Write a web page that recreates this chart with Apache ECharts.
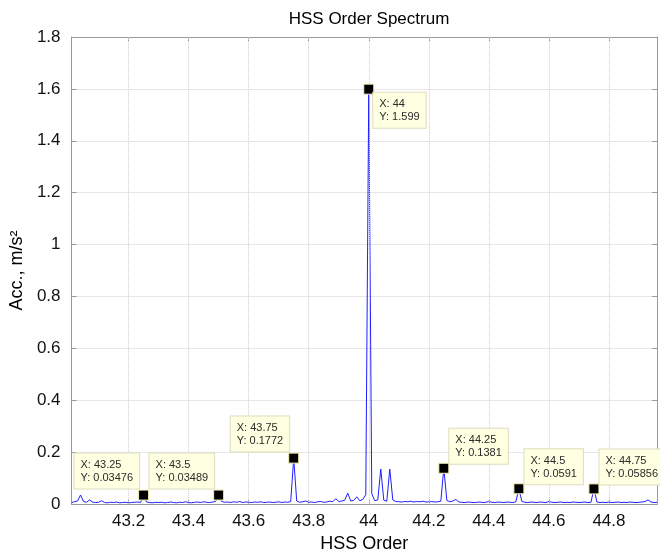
<!DOCTYPE html>
<html>
<head>
<meta charset="utf-8">
<script src="https://cdn.jsdelivr.net/npm/echarts@6/dist/echarts.min.js"></script>
<style>html,body{margin:0;padding:0;background:#fff}#c{width:660px;height:558px}</style>
</head>
<body>
<div id="c"></div>
<script>
// ---- data ----
const titleText = 'HSS Order Spectrum';
const xName = 'HSS Order';
const yName = 'Acc., m/s\u00B2';
const orderStart = 43.01;   // first spectral bin (order)
const orderStep = 0.01;     // bin spacing (order)
const amplitude = [
  0.006, 0.009, 0.012, 0.035, 0.010, 0.007, 0.016, 0.008, 0.006, 0.007,
  0.013, 0.006, 0.005, 0.007, 0.006, 0.008, 0.005, 0.006, 0.007, 0.005,
  0.006, 0.007, 0.008, 0.006, 0.03476, 0.008, 0.006, 0.005, 0.007, 0.006,
  0.007, 0.005, 0.006, 0.008, 0.006, 0.005, 0.007, 0.006, 0.009, 0.006,
  0.005, 0.007, 0.008, 0.006, 0.009, 0.007, 0.006, 0.008, 0.010, 0.03489,
  0.010, 0.007, 0.008, 0.006, 0.009, 0.007, 0.010, 0.006, 0.008, 0.007,
  0.006, 0.008, 0.007, 0.009, 0.006, 0.007, 0.008, 0.006, 0.007, 0.009,
  0.006, 0.008, 0.007, 0.010, 0.1772, 0.012, 0.007, 0.009, 0.012, 0.007,
  0.008, 0.006, 0.009, 0.010, 0.007, 0.008, 0.011, 0.009, 0.021, 0.010,
  0.012, 0.015, 0.042, 0.012, 0.014, 0.028, 0.013, 0.018, 0.036, 1.599,
  0.040, 0.013, 0.016, 0.135, 0.015, 0.011, 0.135, 0.016, 0.010, 0.009,
  0.008, 0.010, 0.009, 0.011, 0.008, 0.010, 0.009, 0.011, 0.008, 0.009,
  0.010, 0.008, 0.009, 0.011, 0.1381, 0.014, 0.009, 0.012, 0.018, 0.008,
  0.007, 0.006, 0.008, 0.007, 0.006, 0.007, 0.008, 0.006, 0.007, 0.010,
  0.007, 0.006, 0.008, 0.007, 0.006, 0.008, 0.007, 0.006, 0.009, 0.0591,
  0.010, 0.007, 0.006, 0.008, 0.007, 0.006, 0.008, 0.007, 0.006, 0.010,
  0.007, 0.006, 0.007, 0.008, 0.006, 0.007, 0.006, 0.008, 0.007, 0.006,
  0.007, 0.008, 0.006, 0.007, 0.05856, 0.008, 0.006, 0.007, 0.006, 0.008,
  0.006, 0.007, 0.008, 0.006, 0.007, 0.006, 0.008, 0.007, 0.006, 0.007,
  0.008, 0.010, 0.016, 0.008, 0.006, 0.007
];
const tipX = [43.25, 43.5, 43.75, 44, 44.25, 44.5, 44.75];
const tipY = [0.03476, 0.03489, 0.1772, 1.599, 0.1381, 0.0591, 0.05856];
const xTicks = [43.2, 43.4, 43.6, 43.8, 44, 44.2, 44.4, 44.6, 44.8];
const xMin = 43.01, xMax = 44.96;
const yMin = 0, yMax = 1.8, yStep = 0.2;

// ---- styling / layout (not data) ----
const tipPlacement = ['ul', 'ul', 'ul', 'lr', 'ur', 'ur', 'ur'];
const placeCfg = {
  ur: {position: [11, 1], align: 'left', verticalAlign: 'bottom'},
  ul: {position: [1, -1], align: 'right', verticalAlign: 'bottom'},
  lr: {position: [10, 9], align: 'left', verticalAlign: 'top'}
};
const FONT = '"Liberation Sans", Arial, Helvetica, sans-serif';
const axisGray = '#9a9a9a';
const gridGray = '#cfcfcf';

const orders = amplitude.map((_, i) => +(orderStart + i * orderStep).toFixed(2));
const lineData = orders.map((o, i) => [o, amplitude[i]]);

const tipData = tipX.map((x, i) => ({
  value: [x, tipY[i]],
  label: Object.assign({}, placeCfg[tipPlacement[i]])
}));

const chart = echarts.init(document.getElementById('c'), null, {renderer: 'canvas'});
chart.setOption({
  animation: false,
  backgroundColor: '#ffffff',
  title: {
    text: titleText, left: 364, top: 6, textAlign: 'center',
    textStyle: {fontFamily: FONT, fontSize: 17, fontWeight: 'normal', color: '#000'}
  },
  grid: {left: 71, right: 3, top: 37, bottom: 50},
  xAxis: [{
    type: 'value', min: xMin, max: xMax, position: 'bottom',
    name: xName, nameLocation: 'middle', nameGap: 30,
    nameTextStyle: {fontFamily: FONT, fontSize: 18, color: '#000'},
    axisLine: {show: true, onZero: false, lineStyle: {color: axisGray, width: 1}},
    axisTick: {show: true, inside: true, length: 5, customValues: xTicks, lineStyle: {color: axisGray}},
    axisLabel: {show: true, customValues: xTicks, margin: 9, fontFamily: FONT, fontSize: 17, color: '#111'},
    splitLine: {show: false}
  }, {
    type: 'value', min: xMin, max: xMax, position: 'top',
    axisLine: {show: true, onZero: false, lineStyle: {color: axisGray, width: 1}},
    axisTick: {show: true, inside: true, length: 5, customValues: xTicks, lineStyle: {color: axisGray}},
    axisLabel: {show: false},
    splitLine: {show: false}
  }],
  yAxis: [{
    type: 'value', min: yMin, max: yMax, interval: yStep, position: 'left',
    name: yName, nameLocation: 'middle', nameGap: 34, nameRotate: 90,
    nameTextStyle: {fontFamily: FONT, fontSize: 18, color: '#000'},
    axisLine: {show: true, onZero: false, lineStyle: {color: axisGray, width: 1}},
    axisTick: {show: true, inside: true, length: 5, lineStyle: {color: axisGray}},
    axisLabel: {margin: 11, fontFamily: FONT, fontSize: 17, color: '#111'},
    splitLine: {show: true, lineStyle: {color: gridGray, type: 'dotted', width: 1}}
  }, {
    type: 'value', min: yMin, max: yMax, interval: yStep, position: 'right',
    axisLine: {show: true, onZero: false, lineStyle: {color: axisGray, width: 1}},
    axisTick: {show: true, inside: true, length: 5, lineStyle: {color: axisGray}},
    axisLabel: {show: false},
    splitLine: {show: false}
  }],
  series: [{
    type: 'line', xAxisIndex: 0, yAxisIndex: 0,
    data: lineData, showSymbol: false, symbol: 'none',
    lineStyle: {color: '#1f1fff', width: 1},
    z: 3,
    markLine: {
      silent: true, symbol: ['none', 'none'], label: {show: false},
      lineStyle: {color: gridGray, type: 'dotted', width: 1},
      emphasis: {disabled: true},
      data: xTicks.map(v => ({xAxis: v}))
    }
  }, {
    type: 'scatter', xAxisIndex: 0, yAxisIndex: 0,
    data: tipData, symbol: 'rect', symbolSize: 10, z: 10,
    itemStyle: {color: '#000000', borderColor: '#f3eeb0', borderWidth: 1, opacity: 1},
    label: {
      show: true,
      formatter: p => '{t|X: ' + p.value[0] + '}\n{t|Y: ' + p.value[1] + '}',
      rich: {t: {align: 'left', fontFamily: FONT, fontSize: 11, lineHeight: 13, color: '#2a2a2a'}},
      fontFamily: FONT, fontSize: 11, lineHeight: 13, color: '#2a2a2a',
      backgroundColor: '#ffffe1', borderColor: '#dcdcc0', borderWidth: 1,
      padding: [5, 6, 4, 6]
    }
  }]
});
</script>
</body>
</html>
